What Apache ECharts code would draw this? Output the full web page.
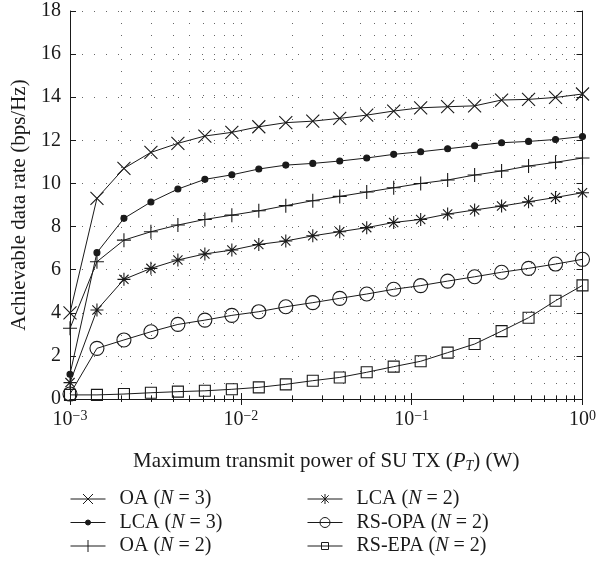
<!DOCTYPE html>
<html>
<head>
<meta charset="utf-8">
<script src="https://cdn.jsdelivr.net/npm/echarts@6/dist/echarts.min.js"></script>
<style>
html, body { margin: 0; padding: 0; background: #fff; }
#container { width: 599px; height: 565px; }
</style>
</head>
<body>
<div id="container"></div>
<script>
// transmit power points (W), 20 log-spaced values 1e-3 .. 1
var xPower = [0.001, 0.001438, 0.002069, 0.002976, 0.004281, 0.006158, 0.008859, 0.01274, 0.01833, 0.02637,
              0.03793, 0.05456, 0.07848, 0.1129, 0.1624, 0.2336, 0.336, 0.4833, 0.6952, 1];

var oaN3    = [4.0, 9.31, 10.70, 11.44, 11.86, 12.20, 12.37, 12.63, 12.82, 12.89,
               13.02, 13.17, 13.36, 13.51, 13.56, 13.60, 13.87, 13.90, 13.99, 14.15];
var lcaN3   = [1.15, 6.79, 8.38, 9.14, 9.74, 10.19, 10.40, 10.67, 10.85, 10.93,
               11.04, 11.18, 11.35, 11.47, 11.61, 11.75, 11.89, 11.95, 12.04, 12.18];
var oaN2    = [3.28, 6.37, 7.37, 7.76, 8.07, 8.33, 8.53, 8.73, 8.97, 9.2,
               9.4, 9.6, 9.8, 10.0, 10.16, 10.39, 10.58, 10.81, 10.98, 11.18];
var lcaN2   = [0.76, 4.13, 5.55, 6.06, 6.45, 6.73, 6.91, 7.17, 7.33, 7.57,
               7.76, 7.95, 8.19, 8.33, 8.58, 8.77, 8.95, 9.15, 9.35, 9.57];
var rsOpaN2 = [0.23, 2.35, 2.74, 3.12, 3.46, 3.66, 3.88, 4.05, 4.28, 4.47,
               4.67, 4.87, 5.09, 5.26, 5.47, 5.67, 5.88, 6.06, 6.26, 6.48];
var rsEpaN2 = [0.19, 0.19, 0.23, 0.29, 0.34, 0.38, 0.45, 0.54, 0.68, 0.85,
               1.0, 1.24, 1.50, 1.75, 2.15, 2.55, 3.15, 3.77, 4.56, 5.27];

var names = ['OA (N = 3)', 'LCA (N = 3)', 'OA (N = 2)', 'LCA (N = 2)', 'RS-OPA (N = 2)', 'RS-EPA (N = 2)'];

// plot markers
var crossPath = 'path://M0,0L20,20M20,0L0,20';
var plusPath = 'path://M10,0L10,20M0,10L20,10';
var starPath = 'path://M10,0L10,20M0,10L20,10M2.9,2.9L17.1,17.1M17.1,2.9L2.9,17.1';

// legend icons: line + small marker, box 35x14
var box = 'M0,0L0,0M35,14L35,14M0,7L35,7';
var legendIcons = [
  'path://' + box + 'M12.5,2L22.5,12M22.5,2L12.5,12',
  'path://' + box + 'M20,7A2.5,2.5,0,1,1,15,7A2.5,2.5,0,1,1,20,7Z',
  'path://' + box + 'M17.5,1L17.5,13',
  'path://' + box + 'M17.5,2L17.5,12M13.8,3.3L21.2,10.7M21.2,3.3L13.8,10.7',
  'path://' + box + 'M22.5,7A5,5,0,1,1,12.5,7A5,5,0,1,1,22.5,7Z',
  'path://' + box + 'M14,3.5L21,3.5L21,10.5L14,10.5Z'
];

var ink = '#1a1a1a';
var clear = 'rgba(255,255,255,0)';
var font = '"Liberation Serif", "Times New Roman", serif';

function makeSeries(name, ys, symbol, size, fill) {
  var data = [];
  for (var i = 0; i < xPower.length; i++) {
    data.push([xPower[i], ys[i]]);
  }
  return {
    name: name,
    type: 'line',
    data: data,
    symbol: symbol,
    symbolSize: size,
    showSymbol: true,
    lineStyle: { color: ink, width: 1 },
    itemStyle: { color: fill, borderColor: ink, borderWidth: 1.1 },
    emphasis: { disabled: true }
  };
}

var series = [
  makeSeries(names[0], oaN3, crossPath, 13, ink),
  makeSeries(names[1], lcaN3, 'circle', 6, ink),
  makeSeries(names[2], oaN2, plusPath, 14, ink),
  makeSeries(names[3], lcaN2, starPath, 13, ink),
  makeSeries(names[4], rsOpaN2, 'circle', 14, clear),
  makeSeries(names[5], rsEpaN2, 'rect', 11, clear)
];

function legendFmt(name) {
  return name.replace('(N', '({i|N}');
}

var legendText = {
  fontFamily: font,
  fontSize: 20,
  lineHeight: 20,
  color: ink,
  padding: [0, 0, 0, 9],
  rich: {
    i: { fontFamily: font, fontSize: 20, lineHeight: 20, fontStyle: 'italic', color: ink }
  }
};

function legendData(from, to) {
  var out = [];
  for (var i = from; i < to; i++) {
    out.push({ name: names[i], icon: legendIcons[i] });
  }
  return out;
}

function makeLegend(from, to, left) {
  return {
    data: legendData(from, to),
    orient: 'vertical',
    left: left,
    top: 489,
    height: 100,
    padding: 0,
    itemWidth: 35,
    itemHeight: 14,
    itemGap: 3.5,
    symbolKeepAspect: false,
    itemStyle: { borderColor: ink, borderWidth: 1 },
    formatter: legendFmt,
    textStyle: legendText
  };
}

function powLabel(v) {
  var e = Math.round(Math.log(v) / Math.LN10);
  var s = e < 0 ? '\u2212' + (-e) : '' + e;
  return '{b|10}{sup|' + s + '}';
}

var dotted = { color: '#666', width: 1, type: [1, 11] };

var myChart = echarts.init(document.getElementById('container'));
var option = {
  animation: false,
  backgroundColor: '#fff',
  grid: { left: 70, right: 14, top: 11, bottom: 166 },
  legend: [makeLegend(0, 3, 70), makeLegend(3, 6, 307)],
  xAxis: [
    {
      type: 'log',
      logBase: 10,
      min: 0.001,
      max: 1,
      position: 'bottom',
      axisLine: { show: true, lineStyle: { color: ink, width: 1 } },
      axisTick: { show: true, inside: true, length: 6, lineStyle: { color: ink } },
      minorTick: { show: true, splitNumber: 9, length: 3, lineStyle: { color: ink } },
      splitLine: { show: true, lineStyle: dotted },
      minorSplitLine: { show: true, lineStyle: dotted },
      axisLabel: {
        margin: 10,
        formatter: powLabel,
        rich: {
          b: { fontFamily: font, fontSize: 20, color: ink, lineHeight: 22 },
          sup: { fontFamily: font, fontSize: 14, color: ink, verticalAlign: 'top', lineHeight: 12, padding: [0, 0, 12, 0] }
        }
      },
      name: 'Maximum transmit power of SU TX ({i|P}{sub|T}) (W)',
      nameLocation: 'middle',
      nameGap: 51,
      nameTextStyle: {
        fontFamily: font,
        fontSize: 21,
        color: ink,
        rich: {
          i: { fontFamily: font, fontSize: 21, fontStyle: 'italic', color: ink },
          sub: { fontFamily: font, fontSize: 14, fontStyle: 'italic', color: ink, padding: [9, 0, 0, 0] }
        }
      }
    },
    {
      type: 'log',
      logBase: 10,
      min: 0.001,
      max: 1,
      position: 'top',
      axisLine: { show: true, lineStyle: { color: ink, width: 1 } },
      axisTick: { show: true, inside: true, length: 6, lineStyle: { color: ink } },
      minorTick: { show: true, splitNumber: 9, length: 3, lineStyle: { color: ink } },
      splitLine: { show: false },
      axisLabel: { show: false }
    }
  ],
  yAxis: [
    {
      type: 'value',
      min: 0,
      max: 18,
      interval: 2,
      position: 'left',
      axisLine: { show: true, lineStyle: { color: ink, width: 1 } },
      axisTick: { show: true, inside: true, length: 6, lineStyle: { color: ink } },
      splitLine: { show: true, lineStyle: dotted },
      axisLabel: { margin: 9, fontFamily: font, fontSize: 20, color: ink },
      name: 'Achievable data rate (bps/Hz)',
      nameLocation: 'middle',
      nameGap: 40,
      nameTextStyle: { fontFamily: font, fontSize: 21, color: ink }
    },
    {
      type: 'value',
      min: 0,
      max: 18,
      interval: 2,
      position: 'right',
      axisLine: { show: true, lineStyle: { color: ink, width: 1 } },
      axisTick: { show: true, inside: true, length: 6, lineStyle: { color: ink } },
      splitLine: { show: false },
      axisLabel: { show: false }
    }
  ],
  series: series
};
myChart.setOption(option);
</script>
</body>
</html>
